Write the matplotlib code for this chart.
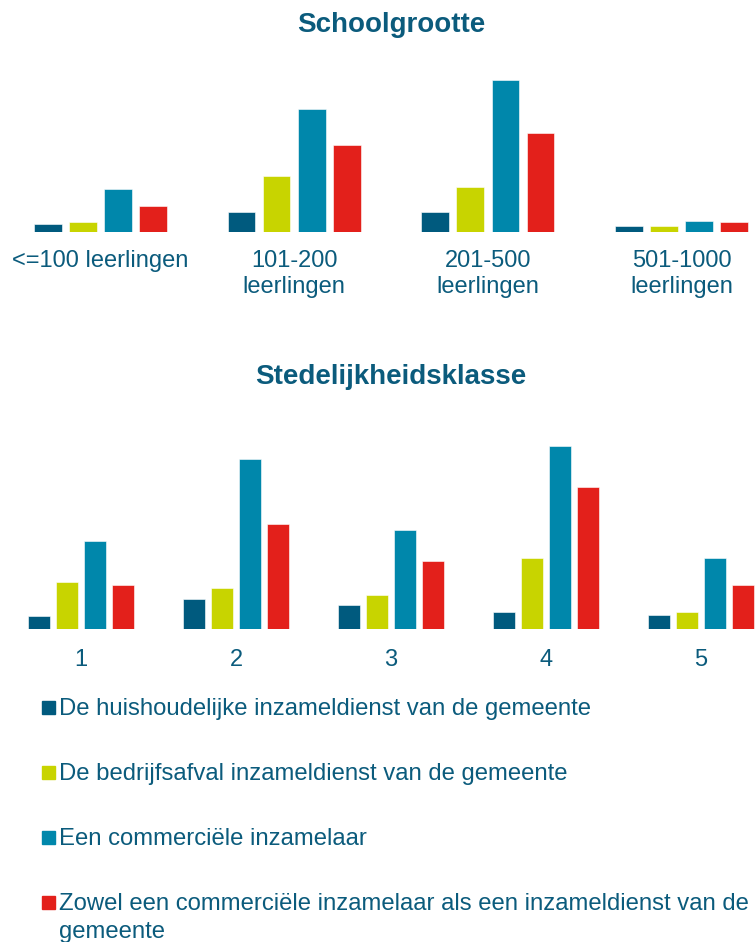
import matplotlib
matplotlib.use("Agg")
import matplotlib.pyplot as plt
import numpy as np
from matplotlib.patches import Rectangle

plt.rcParams["font.family"] = ["Liberation Sans", "DejaVu Sans"]

# ─── Data (relative bar heights) ────────────────────────────────────────────

series_labels = [
    "De huishoudelijke inzameldienst van de gemeente",
    "De bedrijfsafval inzameldienst van de gemeente",
    "Een commerciële inzamelaar",
    "Zowel een commerciële inzamelaar als een inzameldienst van de\ngemeente",
]
series_colors = ["#005A7E", "#C8D400", "#0087AB", "#E3201B"]

school_categories = ["<=100 leerlingen", "101-200\nleerlingen",
                     "201-500\nleerlingen", "501-1000\nleerlingen"]
school_huish = [7.7, 20.3, 20.3, 5.7]
school_bedrijf = [9.7, 56.0, 44.7, 5.7]
school_commerc = [43.0, 122.7, 152.0, 11.0]
school_beide = [26.3, 87.0, 98.7, 9.7]

sted_categories = ["1", "2", "3", "4", "5"]
sted_huish = [13.7, 30.7, 24.0, 17.0, 14.0]
sted_bedrijf = [47.7, 41.0, 34.3, 71.7, 17.0]
sted_commerc = [88.3, 170.0, 99.0, 183.7, 71.7]
sted_beide = [44.3, 105.3, 68.0, 142.7, 44.3]

TEXT = "#0B5B7C"
W, H = 756, 942


def fx(px):
    return px / W


def fy(py):
    return 1 - py / H


def grouped_bars(ax, categories, values, ymax, pad):
    x = np.arange(len(categories))
    step, width = 0.181, 0.143
    for k, (vals, col) in enumerate(zip(values, series_colors)):
        ax.bar(x + (k - 1.5) * step, vals, width, color=col,
               edgecolor="white", linewidth=0.4)
    ax.set_xlim(-0.5, len(categories) - 0.5)
    ax.set_ylim(0, ymax)
    ax.set_xticks(x)
    ax.set_xticklabels(categories, fontsize=17, color=TEXT, linespacing=1.25)
    ax.tick_params(axis="x", length=0, pad=pad)
    ax.set_yticks([])
    for s in ax.spines.values():
        s.set_visible(False)


fig = plt.figure(figsize=(W / 100, H / 100), dpi=100)

# Schoolgrootte
ax1 = fig.add_axes([fx(3.5), fy(232), fx(775), 160 / H])
grouped_bars(ax1, school_categories,
             [school_huish, school_bedrijf, school_commerc, school_beide],
             160, 13)
fig.text(fx(391), fy(25), "Schoolgrootte", ha="center", va="center",
         fontsize=20, fontweight="bold", color=TEXT)

# Stedelijkheidsklasse
ax2 = fig.add_axes([fx(3.5), fy(629.3), fx(775), 190 / H])
grouped_bars(ax2, sted_categories,
             [sted_huish, sted_bedrijf, sted_commerc, sted_beide],
             190, 14)
fig.text(fx(391), fy(377), "Stedelijkheidsklasse", ha="center", va="center",
         fontsize=20, fontweight="bold", color=TEXT)

# Legend (drawn by hand: square + wrapped text per series)
for i, (lab, col) in enumerate(zip(series_labels, series_colors)):
    base = 715 + 65 * i
    fig.add_artist(Rectangle((fx(42), fy(base - 1)), fx(13), 13 / H,
                             transform=fig.transFigure, color=col))
    for j, line in enumerate(lab.split("\n")):
        fig.text(fx(59), fy(base + 28 * j), line, ha="left", va="baseline",
                 fontsize=17.2, color=TEXT)

fig.savefig("out.png", dpi=100)
